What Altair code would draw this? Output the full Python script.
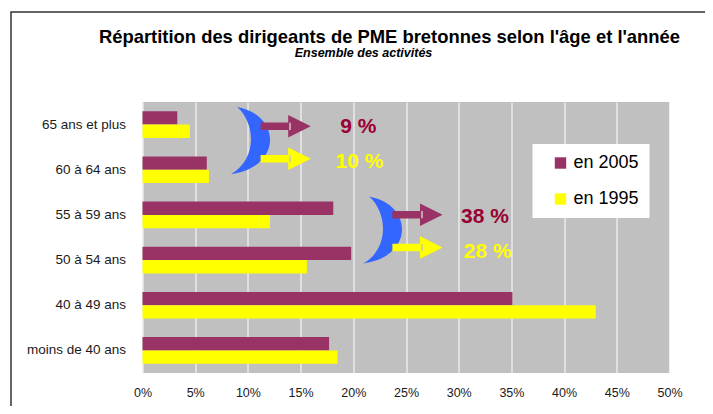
import altair as alt
import pandas as pd

# ---- data ----
categories = ["65 ans et plus", "60 à 64 ans", "55 à 59 ans", "50 à 54 ans",
              "40 à 49 ans", "moins de 40 ans"]
series = ["en 2005", "en 1995"]
values_2005 = [3.3, 6.1, 18.1, 19.8, 35.1, 17.7]
values_1995 = [4.5, 6.3, 12.1, 15.6, 43.0, 18.5]
x_ticks = [0, 5, 10, 15, 20, 25, 30, 35, 40, 45, 50]
series_colors = ["#993366", "#FFFF00"]

title_text = "Répartition des dirigeants de PME bretonnes selon l'âge et l'année"
subtitle_text = "Ensemble des activités"
change_labels = ["9 %", "10 %", "38 %", "28 %"]
change_colors = ["#990033", "#FFFF00", "#990033", "#FFFF00"]

rows = []
for c, v5, v9 in zip(categories, values_2005, values_1995):
    rows.append({"category": c, "series": "en 2005", "value": v5})
    rows.append({"category": c, "series": "en 1995", "value": v9})
df = pd.DataFrame(rows)

FONT = "Liberation Sans"
one = pd.DataFrame([{"k": 0}])

bars = alt.Chart(df).mark_bar().encode(
    y=alt.Y("category:N", sort=categories,
            scale=alt.Scale(paddingInner=0.41, paddingOuter=0.205),
            axis=alt.Axis(title=None, labelFontSize=13.5, labelPadding=17, ticks=False,
                          domain=False, grid=False, labelColor="#1a1a1a", labelFont=FONT)),
    yOffset=alt.YOffset("series:N", sort=series,
                        scale=alt.Scale(domain=series, paddingInner=0, paddingOuter=0)),
    x=alt.X("value:Q", scale=alt.Scale(domain=[0, 50], nice=False),
            axis=alt.Axis(values=x_ticks, labelExpr="datum.value + '%'", title=None,
                          grid=True, gridColor="white", gridWidth=1, ticks=False,
                          domain=False, labelFontSize=12.5, labelPadding=13,
                          labelFlush=False, labelOverlap=False,
                          labelColor="#1a1a1a", labelFont=FONT)),
    color=alt.Color("series:N", sort=series,
                    scale=alt.Scale(domain=series, range=series_colors),
                    legend=alt.Legend(title=None, orient="none", legendX=390, legendY=42,
                                      fillColor="white", padding=10, symbolType="square",
                                      symbolSize=130, symbolOffset=9, symbolStrokeWidth=0,
                                      labelFontSize=18, labelOffset=4, rowPadding=18,
                                      labelFont=FONT, labelColor="black")),
)

layers = [bars]

# outer frame
layers.append(alt.Chart(one).mark_rect(fillOpacity=0, stroke="#333333", strokeWidth=1.5).encode(
    x=alt.value(-131.5), x2=alt.value(580), y=alt.value(-90), y2=alt.value(320)))

# title + subtitle
layers.append(alt.Chart(one).mark_text(text=title_text, font=FONT, fontSize=18.4,
                                       fontWeight="bold", color="black",
                                       align="center", baseline="alphabetic").encode(
    x=alt.value(247), y=alt.value(-59.3)))
layers.append(alt.Chart(one).mark_text(text=subtitle_text, font=FONT, fontSize=12.5,
                                       fontWeight="bold", fontStyle="italic", color="black",
                                       align="center", baseline="alphabetic").encode(
    x=alt.value(221), y=alt.value(-45.3)))

# crescents
crescent_path = "M -0.4 -1 C 0.94 -0.75 0.94 0.8 -0.58 1 C 0.18 0.6 0.18 -0.5 -0.4 -1 Z"
for cx, cy in [(108, 38.5), (240, 128)]:
    layers.append(alt.Chart(one).mark_point(shape=crescent_path, filled=True, opacity=1,
                                            color="#3366FF", size=4489, strokeWidth=0).encode(
        x=alt.value(cx), y=alt.value(cy)))

# arrows
arrow_path = "M -1 -0.15 L 0.1 -0.15 L 0.1 -0.45 L 1 0 L 0.1 0.45 L 0.1 0.15 L -1 0.15 Z"
arrow_specs = [(143.2, 24.3, "#993366", "#c2a3b4", 147.5),
               (143.2, 56.8, "#FFFF00", "#d6d68c", 147.5),
               (275.0, 112.7, "#993366", "#c2a3b4", 279.5),
               (275.0, 145.5, "#FFFF00", "#d6d68c", 279.5)]
for ax, ay, col, notch_col, nx in arrow_specs:
    layers.append(alt.Chart(one).mark_point(shape=arrow_path, filled=True, opacity=1,
                                            color=col, size=2520, strokeWidth=0).encode(
        x=alt.value(ax), y=alt.value(ay)))
    layers.append(alt.Chart(one).mark_rule(color=notch_col, strokeWidth=2).encode(
        x=alt.value(nx), y=alt.value(ay - 3.6), y2=alt.value(ay + 3.6)))

# change labels
label_pos = [(215.8, 24.7), (217, 60.3), (342.5, 115.3), (345.2, 149.7)]
for txt, col, (tx, ty) in zip(change_labels, change_colors, label_pos):
    layers.append(alt.Chart(one).mark_text(text=txt, font=FONT, fontSize=21,
                                           fontWeight="bold", color=col,
                                           align="center", baseline="middle").encode(
        x=alt.value(tx), y=alt.value(ty)))

chart = alt.layer(*layers).properties(
    width=527, height=271,
    padding={"left": 134.5, "top": 94, "right": 35.5, "bottom": 33},
    autosize=alt.AutoSizeParams(type="none"),
).configure_view(fill="#C0C0C0", strokeWidth=0)

chart.save("out.html", embed_options={"renderer": "svg", "actions": False})
